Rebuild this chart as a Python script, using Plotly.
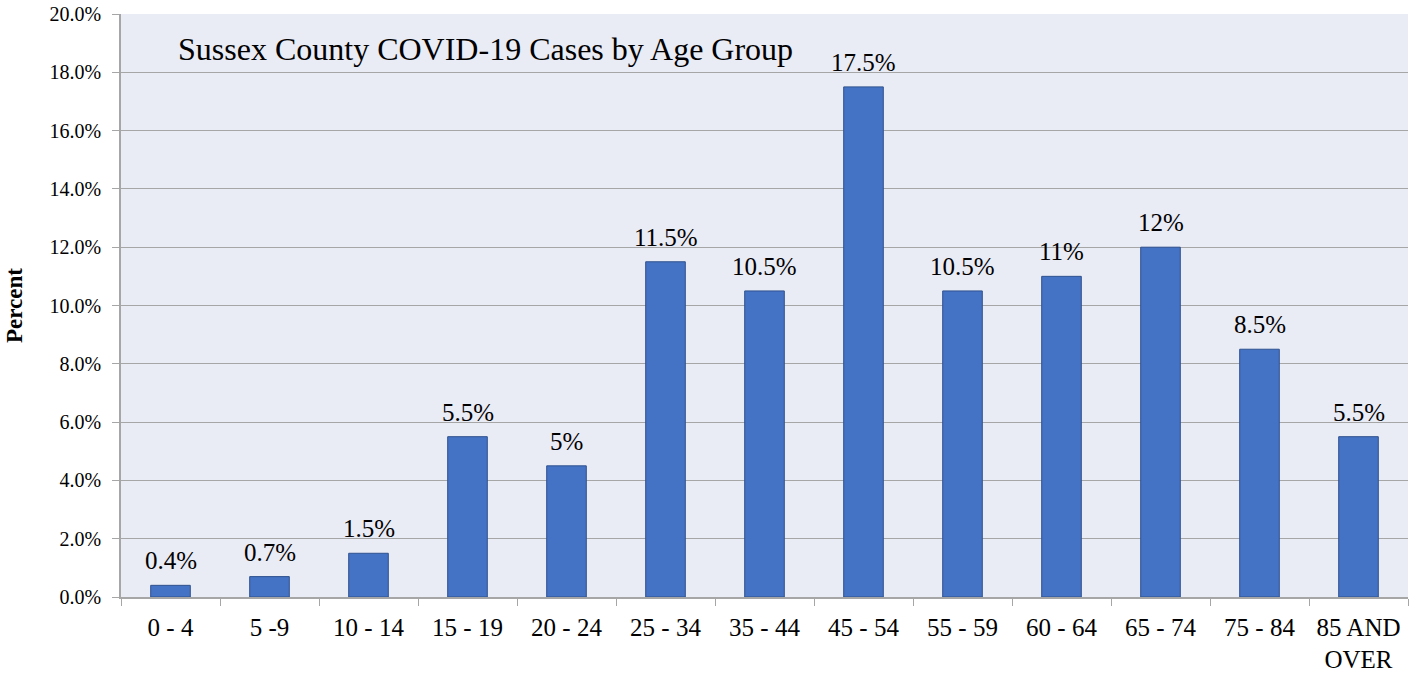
import plotly.graph_objects as go

categories = ["0 - 4", "5 -9", "10 - 14", "15 - 19", "20 - 24", "25 - 34", "35 - 44",
              "45 - 54", "55 - 59", "60 - 64", "65 - 74", "75 - 84", "85 AND<br>OVER"]
values = [0.4, 0.7, 1.5, 5.5, 4.5, 11.5, 10.5, 17.5, 10.5, 11.0, 12.0, 8.5, 5.5]
labels = ["0.4%", "0.7%", "1.5%", "5.5%", "5%", "11.5%", "10.5%", "17.5%", "10.5%",
          "11%", "12%", "8.5%", "5.5%"]
y_ticks = [0, 2, 4, 6, 8, 10, 12, 14, 16, 18, 20]
y_tick_labels = [f"{v:.1f}%" for v in y_ticks]

FONT = "Liberation Serif, Times New Roman, serif"

fig = go.Figure(go.Bar(
    x=categories, y=values,
    marker=dict(color="#4472C4", line=dict(color="#2F528F", width=1)),
    width=0.4, cliponaxis=False,
))

label_annotations = [
    dict(x=c, y=v, text=t, xref="x", yref="y", showarrow=False,
         yanchor="bottom", yshift=9, font=dict(size=25, family=FONT, color="black"))
    for c, v, t in zip(categories, values, labels)
]

fig.update_layout(
    width=1409, height=673,
    margin=dict(l=121, r=1, t=14, b=76, autoexpand=False),
    paper_bgcolor="white", plot_bgcolor="#E9EBF5",
    font=dict(family=FONT, color="black"),
    showlegend=False,
    xaxis=dict(
        tickfont=dict(size=25, family=FONT), tickson="boundaries",
        ticks="outside", ticklen=7, tickcolor="#A6A6A6",
        showline=True, linecolor="#A6A6A6", linewidth=1.5,
        showgrid=False, automargin=False, ticklabelstandoff=7,
    ),
    yaxis=dict(
        range=[0, 20], tickvals=y_ticks, ticktext=y_tick_labels,
        tickfont=dict(size=20, family=FONT),
        ticks="outside", ticklen=7, tickcolor="#A6A6A6",
        showline=True, linecolor="#A6A6A6", linewidth=1.5,
        showgrid=True, gridcolor="#A6A6A6", gridwidth=1,
        zeroline=False, automargin=False, ticklabelstandoff=7,
        title=dict(text="<b>Percent</b>", font=dict(size=23, family=FONT), standoff=21),
    ),
    annotations=[dict(
        text="Sussex County COVID-19 Cases by Age Group",
        xref="paper", yref="paper", x=0.0425, y=0.94, xanchor="left", yanchor="middle",
        showarrow=False, font=dict(size=32, family=FONT, color="black"),
    )] + label_annotations,
)

fig.write_html("out.html", config={"displayModeBar": False},
               post_script="document.body.style.margin='0px';")
